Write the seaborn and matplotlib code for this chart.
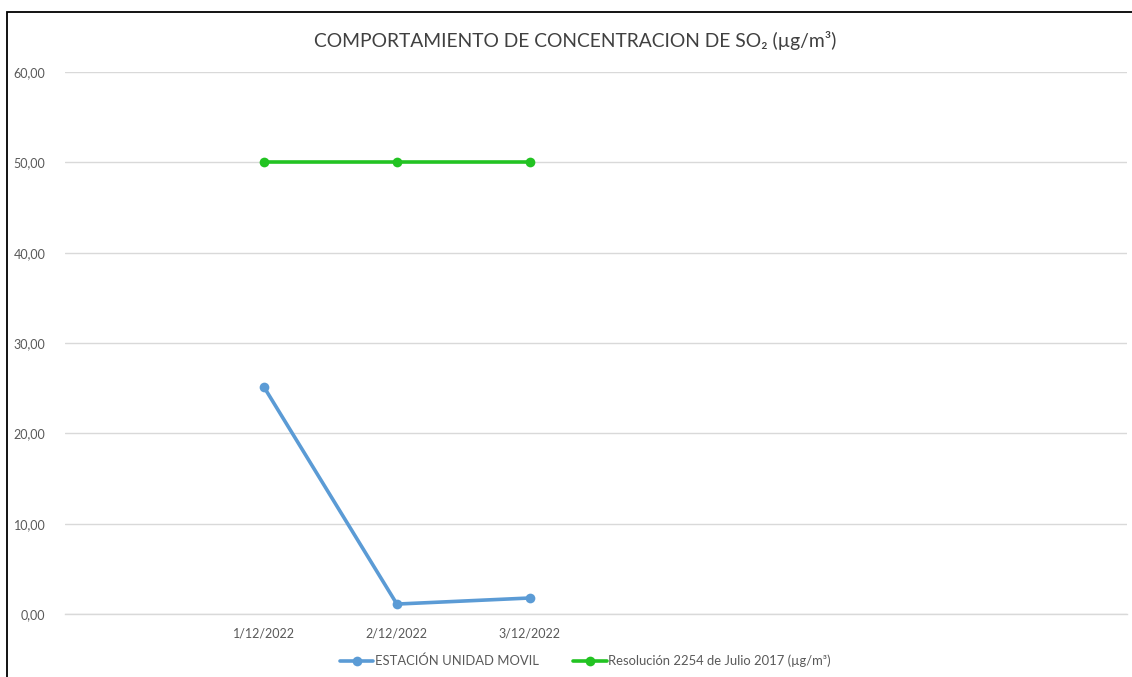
import matplotlib
matplotlib.use("Agg")
import matplotlib.pyplot as plt
import seaborn as sns
import pandas as pd
import numpy as np
from matplotlib.lines import Line2D
from matplotlib.patches import Rectangle

# ---- data ----
dates = ["1/12/2022", "2/12/2022", "3/12/2022"]
estacion = [25.1, 1.1, 1.77]
resolucion = [50.0, 50.0, 50.0]
n_slots = 8          # category slots on the x axis
first_slot = 1       # index of the slot holding the first date
y_ticks = [0, 10, 20, 30, 40, 50, 60]

series_names = ["ESTACIÓN UNIDAD MOVIL", "Resolución 2254 de Julio 2017 (µg/m³)"]
colors = {"ESTACIÓN UNIDAD MOVIL": "#5b9bd5",
          "Resolución 2254 de Julio 2017 (µg/m³)": "#22c322"}

pos = [first_slot + i for i in range(len(dates))]
df = pd.concat([
    pd.DataFrame({"x": pos, "valor": estacion, "serie": series_names[0]}),
    pd.DataFrame({"x": pos, "valor": resolucion, "serie": series_names[1]}),
])

sns.set_theme(style="white")
plt.rcParams["font.family"] = ["Lato", "DejaVu Sans"]

fig = plt.figure(figsize=(11.32, 6.77), dpi=100)
ax = fig.add_axes([65/1132, 1-614/677, (1127-65)/1132, (614-72)/677])

sns.lineplot(data=df, x="x", y="valor", hue="serie", palette=colors,
             marker="o", markersize=7, markeredgewidth=0, linewidth=2.6,
             ax=ax, legend=False)

ax.set_xlim(-0.5, n_slots - 0.5)
ax.set_ylim(0, 60)
ax.set_yticks(y_ticks)
ax.set_yticklabels([f"{v:.2f}".replace(".", ",") for v in y_ticks],
                   fontsize=9, color="#595959")
ax.set_xticks(pos)
ax.set_xticklabels(dates, fontsize=9, color="#595959")
ax.set_xticks(np.arange(n_slots + 1) - 0.5, minor=True)
ax.tick_params(axis="x", which="major", length=0, pad=10)
ax.tick_params(axis="x", which="minor", length=5, color="#d9d9d9", width=1)
ax.tick_params(axis="y", length=0, pad=14)
ax.set_xlabel("")
ax.set_ylabel("")
ax.grid(axis="y", color="#d9d9d9", linewidth=1)
ax.set_axisbelow(True)
for s in ["top", "right", "left"]:
    ax.spines[s].set_visible(False)
ax.spines["bottom"].set_color("#d9d9d9")
ax.spines["bottom"].set_linewidth(1)

fig.text(575/1132, 1-41/677, "COMPORTAMIENTO DE CONCENTRACION DE SO₂ (µg/m³)",
         ha="center", va="center", fontsize=13.9, color="#404040",
         family=["Lato", "DejaVu Sans"])

handles = [Line2D([0], [0], color=colors[n], marker="o", markersize=7,
                  markeredgewidth=0, linewidth=2.6) for n in series_names]
fig.legend(handles, series_names, loc="center", bbox_to_anchor=(585/1132, 1-661/677),
           ncol=2, frameon=False, fontsize=9.4, handlelength=2.6,
           columnspacing=2.6, handletextpad=0.1, labelcolor="#595959")

fig.add_artist(Rectangle((7/1132, -0.01), 1.0, (677-12)/677 + 0.01,
                         transform=fig.transFigure, fill=False,
                         edgecolor="black", linewidth=1.3))

fig.savefig("out.png", dpi=100)
